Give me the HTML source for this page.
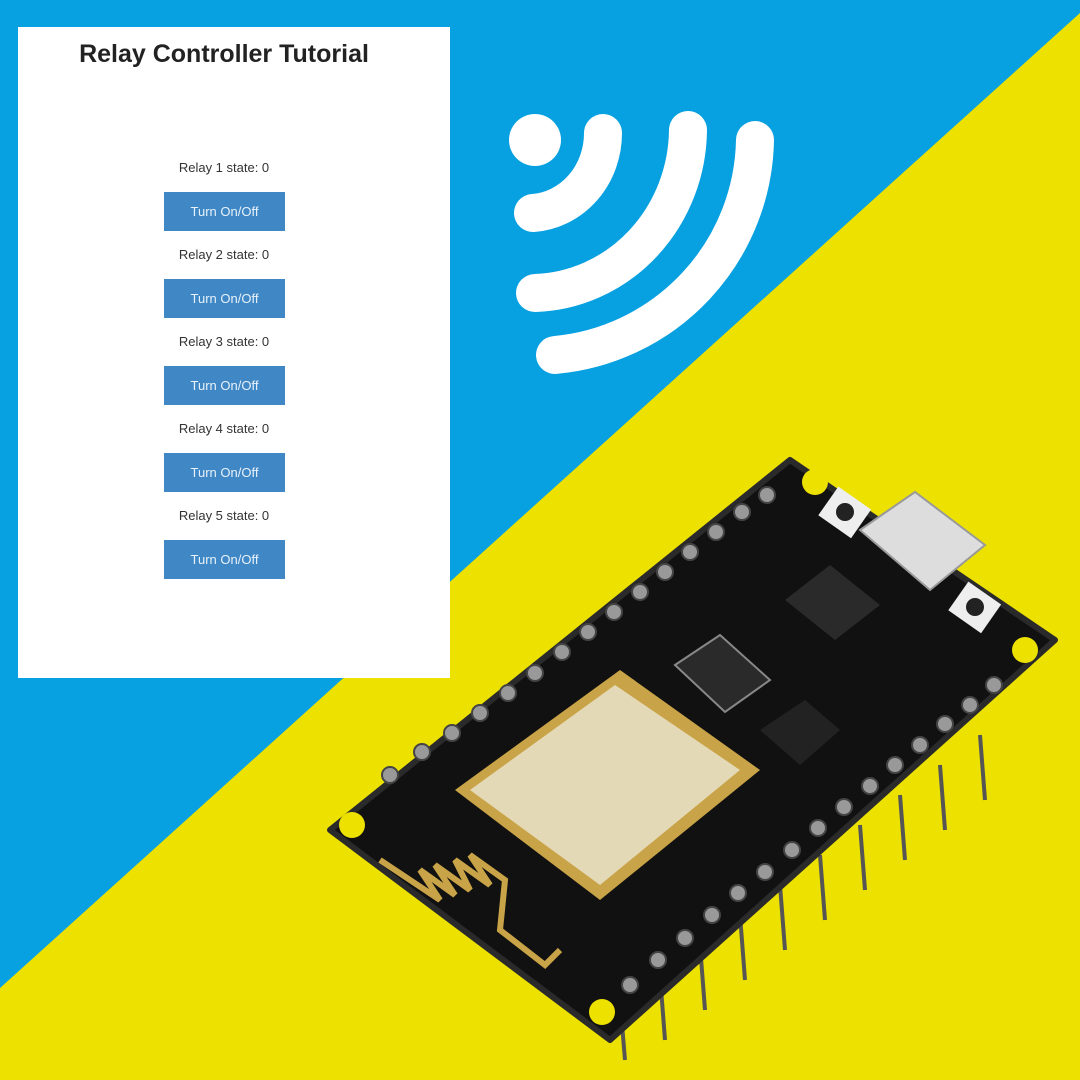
<!DOCTYPE html>
<html><head><style>
body{margin:0;width:1080px;height:1080px;overflow:hidden;font-family:"Liberation Sans",sans-serif;}
.panel{position:absolute;left:18px;top:27px;width:432px;height:651px;background:#fff;}
.t{position:absolute;left:0;width:412px;text-align:center;}
.btn{position:absolute;left:146px;width:121px;height:39px;background:#3f88c5;color:#e8f1fa;font-size:13px;line-height:39px;text-align:center;}
.lab{position:absolute;left:0;width:412px;text-align:center;font-size:13px;color:#333;}
</style></head><body>
<svg width="1080" height="1080" style="position:absolute;left:0;top:0">
<rect width="1080" height="1080" fill="#07a0e0"/>
<polygon points="1080,13 1080,1080 0,1080 0,988" fill="#ede100"/>
<g fill="none" stroke="#fff" stroke-width="38" stroke-linecap="round">
<path d="M603,133 A75,80 0 0 1 533,213"/>
<path d="M688,130 A158,165 0 0 1 535,293"/>
<path d="M755,140 A220,220 0 0 1 555,355"/>
</g>
<circle cx="535" cy="140" r="26" fill="#fff"/>
<!-- pins under board -->
<g stroke="#555" stroke-width="4">
<line x1="620" y1="1000" x2="625" y2="1060"/><line x1="660" y1="975" x2="665" y2="1040"/>
<line x1="700" y1="945" x2="705" y2="1010"/><line x1="740" y1="915" x2="745" y2="980"/>
<line x1="780" y1="885" x2="785" y2="950"/><line x1="820" y1="855" x2="825" y2="920"/>
<line x1="860" y1="825" x2="865" y2="890"/><line x1="900" y1="795" x2="905" y2="860"/>
<line x1="940" y1="765" x2="945" y2="830"/><line x1="980" y1="735" x2="985" y2="800"/>
</g>
<polygon points="790,460 1055,640 610,1040 330,830" fill="#111" stroke="#2a2a2a" stroke-width="6" stroke-linejoin="round"/>
<g fill="#ede100"><circle cx="815" cy="482" r="13"/><circle cx="1025" cy="650" r="13"/><circle cx="352" cy="825" r="13"/><circle cx="602" cy="1012" r="13"/></g>
<!-- pin rows -->
<g fill="#999" stroke="#444" stroke-width="2">
<circle cx="390" cy="775" r="8"/><circle cx="422" cy="752" r="8"/><circle cx="452" cy="733" r="8"/><circle cx="480" cy="713" r="8"/><circle cx="508" cy="693" r="8"/><circle cx="535" cy="673" r="8"/><circle cx="562" cy="652" r="8"/><circle cx="588" cy="632" r="8"/><circle cx="614" cy="612" r="8"/><circle cx="640" cy="592" r="8"/><circle cx="665" cy="572" r="8"/><circle cx="690" cy="552" r="8"/><circle cx="716" cy="532" r="8"/><circle cx="742" cy="512" r="8"/><circle cx="767" cy="495" r="8"/>
<circle cx="630" cy="985" r="8"/><circle cx="658" cy="960" r="8"/><circle cx="685" cy="938" r="8"/><circle cx="712" cy="915" r="8"/><circle cx="738" cy="893" r="8"/><circle cx="765" cy="872" r="8"/><circle cx="792" cy="850" r="8"/><circle cx="818" cy="828" r="8"/><circle cx="844" cy="807" r="8"/><circle cx="870" cy="786" r="8"/><circle cx="895" cy="765" r="8"/><circle cx="920" cy="745" r="8"/><circle cx="945" cy="724" r="8"/><circle cx="970" cy="705" r="8"/><circle cx="994" cy="685" r="8"/>
</g>
<!-- ESP module -->
<polygon points="455,790 620,670 760,770 600,900" fill="#c9a347"/>
<polygon points="470,790 615,685 740,770 600,885" fill="#e4d9b6"/>
<!-- antenna -->
<path d="M380,860 L440,900 L420,870 L455,895 L435,865 L470,890 L455,860 L490,885 L470,855 L505,880 L500,930 L545,965 L560,950" fill="none" stroke="#c9a347" stroke-width="6"/>
<!-- USB -->
<polygon points="860,530 915,492 985,545 930,590" fill="#ddd" stroke="#999" stroke-width="2"/>
<rect x="825" y="495" width="40" height="35" fill="#eee" transform="rotate(35 845 512)"/>
<rect x="955" y="590" width="40" height="35" fill="#eee" transform="rotate(35 975 607)"/>
<circle cx="845" cy="512" r="9" fill="#222"/><circle cx="975" cy="607" r="9" fill="#222"/>
<polygon points="785,600 830,565 880,605 835,640" fill="#2a2a2a"/>
<polygon points="675,665 720,635 770,680 725,712" fill="#2a2a2a" stroke="#888" stroke-width="2"/>
<polygon points="760,730 805,700 840,730 800,765" fill="#222"/>
</svg>
<div class="panel">
<div class="t" style="top:13px;font-size:25px;font-weight:bold;color:#222;">Relay Controller Tutorial</div>
<div class="lab" style="top:133px">Relay 1 state: 0</div><div class="btn" style="top:165px">Turn On/Off</div>
<div class="lab" style="top:220px">Relay 2 state: 0</div><div class="btn" style="top:252px">Turn On/Off</div>
<div class="lab" style="top:307px">Relay 3 state: 0</div><div class="btn" style="top:339px">Turn On/Off</div>
<div class="lab" style="top:394px">Relay 4 state: 0</div><div class="btn" style="top:426px">Turn On/Off</div>
<div class="lab" style="top:481px">Relay 5 state: 0</div><div class="btn" style="top:513px">Turn On/Off</div>
</div>
</body></html>
